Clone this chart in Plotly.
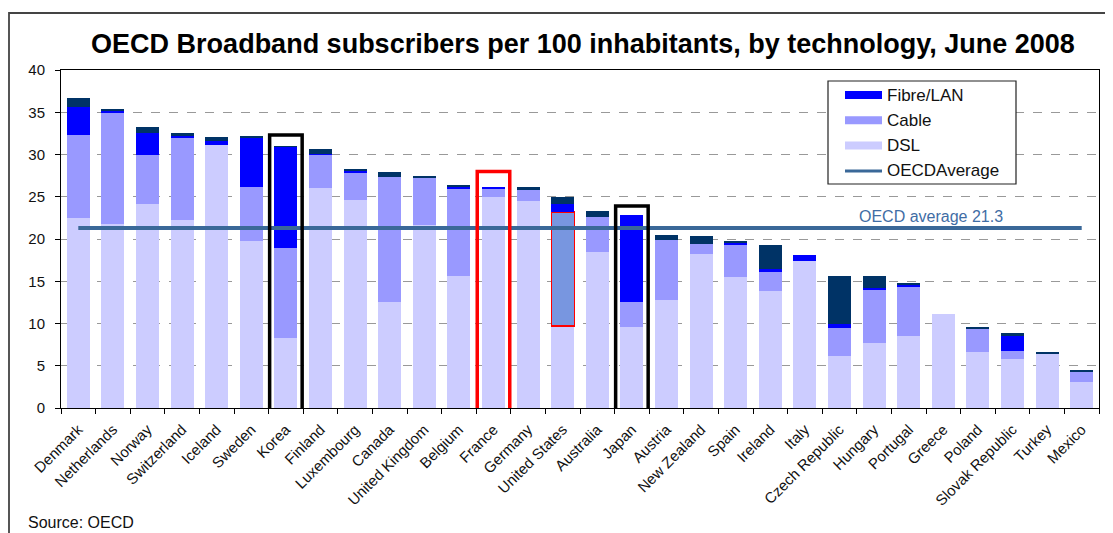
import plotly.graph_objects as go

# ── Data (subscribers per 100 inhabitants, June 2008) ───────────────────────

countries = [
    "Denmark", "Netherlands", "Norway", "Switzerland", "Iceland", "Sweden",
    "Korea", "Finland", "Luxembourg", "Canada", "United Kingdom", "Belgium",
    "France", "Germany", "United States", "Australia", "Japan", "Austria",
    "New Zealand", "Spain", "Ireland", "Italy", "Czech Republic", "Hungary",
    "Portugal", "Greece", "Poland", "Slovak Republic", "Turkey", "Mexico",
]
dsl = [22.5, 21.8, 24.1, 22.3, 31.1, 19.8, 8.3, 26.0, 24.6, 12.6, 21.6, 15.6,
       25.0, 24.5, 9.7, 18.5, 9.6, 12.8, 18.2, 15.5, 13.9, 17.4, 6.1, 7.7,
       8.5, 11.1, 6.6, 5.8, 6.5, 3.1]
cable = [9.8, 13.1, 5.9, 9.7, 0.0, 6.4, 10.6, 4.0, 3.3, 14.7, 5.7, 10.3,
         1.0, 1.4, 13.5, 4.1, 3.0, 7.1, 1.2, 3.8, 2.2, 0.0, 3.4, 6.3,
         5.9, 0.0, 2.8, 1.0, 0.0, 1.2]
fibre = [3.3, 0.3, 2.5, 0.3, 0.5, 5.8, 12.0, 0.1, 0.2, 0.0, 0.0, 0.3,
         0.2, 0.0, 0.9, 0.0, 10.2, 0.0, 0.0, 0.3, 0.3, 0.7, 0.5, 0.2,
         0.2, 0.0, 0.0, 1.7, 0.0, 0.0]
other = [1.1, 0.2, 0.7, 0.2, 0.5, 0.1, 0.1, 0.5, 0.1, 0.6, 0.2, 0.2,
         0.0, 0.2, 0.9, 0.7, 0.0, 0.6, 0.9, 0.2, 2.9, 0.0, 5.6, 1.4,
         0.2, 0.0, 0.2, 0.4, 0.1, 0.2]
oecd_average = 21.3

highlights = {"Korea": "black", "France": "red", "Japan": "black"}
highlight_pad = {"Korea": 1.3, "France": 1.8, "Japan": 1.1}

# ── Styling ─────────────────────────────────────────────────────────────────

COLORS = {
    "dsl": "#CCCCFF",
    "cable": "#9999FF",
    "cable_us": "#7896E0",
    "fibre": "#0000FF",
    "other": "#003366",
    "avg": "#3A6898",
    "grid": "#999999",
    "text": "#111111",
}
FONT = "Liberation Sans, Arial, sans-serif"

# page is 1113x533; the html body adds an 8px margin, so the figure is shrunk
PAGE_W, PAGE_H, BODY = 1113, 533, 8
W, H = PAGE_W - BODY, PAGE_H - BODY
ML, MR, MT, MB = 61 - BODY, 14, 70 - BODY, 125


def px_x(px):
    """Absolute page x pixel -> paper fraction."""
    return (px - BODY - ML) / (W - ML - MR)


def px_y(py):
    """Absolute page y pixel -> paper fraction."""
    return (PAGE_H - MB - py) / (H - MT - MB)


fig = go.Figure()

cable_colors = [COLORS["cable_us"] if c == "United States" else COLORS["cable"] for c in countries]
cable_lines = ["red" if c == "United States" else "rgba(0,0,0,0)" for c in countries]

fig.add_trace(go.Bar(x=countries, y=dsl, name="DSL", marker_color=COLORS["dsl"],
                     marker_line_width=0))
fig.add_trace(go.Bar(x=countries, y=cable, name="Cable", marker_color=cable_colors,
                     marker_line=dict(color=cable_lines, width=1.2)))
fig.add_trace(go.Bar(x=countries, y=fibre, name="Fibre/LAN", marker_color=COLORS["fibre"],
                     marker_line_width=0))
fig.add_trace(go.Bar(x=countries, y=other, name="Other", marker_color=COLORS["other"],
                     marker_line_width=0))

fig.add_trace(go.Scatter(
    x=countries, y=[oecd_average] * len(countries), mode="lines",
    line=dict(color=COLORS["avg"], width=4), name="OECDAverage",
))

shapes = []
annotations = []

# Highlight boxes around selected countries
for name, col in highlights.items():
    i = countries.index(name)
    top = dsl[i] + cable[i] + fibre[i] + other[i] + highlight_pad[name]
    shapes.append(dict(type="rect", xref="x", yref="y", x0=i - 0.47, x1=i + 0.47,
                       y0=-0.35, y1=top, line=dict(color=col, width=3.5),
                       fillcolor="rgba(0,0,0,0)", layer="above"))

# Manual legend (wide swatches as in the original)
shapes.append(dict(type="rect", xref="paper", yref="paper",
                   x0=px_x(828), x1=px_x(1016), y0=px_y(184), y1=px_y(81),
                   line=dict(color="#222222", width=1.2), fillcolor="white"))
legend_items = [("Fibre/LAN", COLORS["fibre"], "bar"), ("Cable", COLORS["cable"], "bar"),
                ("DSL", COLORS["dsl"], "bar"), ("OECDAverage", COLORS["avg"], "line")]
for k, (label, col, kind) in enumerate(legend_items):
    yc = 95 + k * 25.3
    if kind == "bar":
        shapes.append(dict(type="rect", xref="paper", yref="paper",
                           x0=px_x(845), x1=px_x(882), y0=px_y(yc + 4), y1=px_y(yc - 4),
                           line_width=0, fillcolor=col))
    else:
        shapes.append(dict(type="line", xref="paper", yref="paper",
                           x0=px_x(845), x1=px_x(882), y0=px_y(yc), y1=px_y(yc),
                           line=dict(color=col, width=3)))
    annotations.append(dict(xref="paper", yref="paper", x=px_x(885), y=px_y(yc),
                            text=label, showarrow=False, xanchor="left", yanchor="middle",
                            font=dict(size=17, color=COLORS["text"], family=FONT)))

# Outer chart frame
shapes.append(dict(type="rect", xref="paper", yref="paper",
                   x0=px_x(9), x1=px_x(1125), y0=px_y(545), y1=px_y(13),
                   line=dict(color="#444444", width=1.8), fillcolor="rgba(0,0,0,0)"))

annotations.append(dict(xref="paper", yref="y", x=px_x(931), y=22.7,
                        text=f"OECD average {oecd_average}", showarrow=False,
                        xanchor="center", yanchor="middle",
                        font=dict(size=16, color="#3F6DA5", family=FONT)))
annotations.append(dict(xref="paper", yref="paper", x=px_x(26), y=px_y(522),
                        text="Source: OECD", showarrow=False, xanchor="left",
                        yanchor="middle", font=dict(size=16, color=COLORS["text"], family=FONT)))

fig.update_layout(
    width=W, height=H,
    barmode="stack", bargap=0.34,
    showlegend=False,
    paper_bgcolor="white", plot_bgcolor="white",
    margin=dict(l=ML, r=MR, t=MT, b=MB),
    font=dict(family=FONT, color=COLORS["text"], size=15),
    title=dict(text="<b>OECD Broadband subscribers per 100 inhabitants, by technology, June 2008</b>",
               x=px_x(583), xref="paper", xanchor="center",
               y=1 - (44 - BODY) / H, yref="container", yanchor="middle",
               font=dict(size=27, color="black", family=FONT)),
    shapes=shapes,
    annotations=annotations,
)
fig.update_xaxes(
    type="category", tickangle=-45, tickfont=dict(size=15),
    showline=True, linecolor="black", linewidth=1, mirror=True,
    ticks="outside", ticklen=5, tickcolor="black", tickson="boundaries",
    ticklabelstandoff=6, showgrid=False,
)
fig.update_yaxes(
    range=[0, 40], dtick=5, tickfont=dict(size=15),
    showline=True, linecolor="black", linewidth=1, mirror=True,
    ticks="outside", ticklen=5, tickcolor="black", ticklabelstandoff=7,
    showgrid=True, gridcolor=COLORS["grid"], griddash="dash", gridwidth=1,
    zeroline=False,
)

fig.write_html("out.html")
